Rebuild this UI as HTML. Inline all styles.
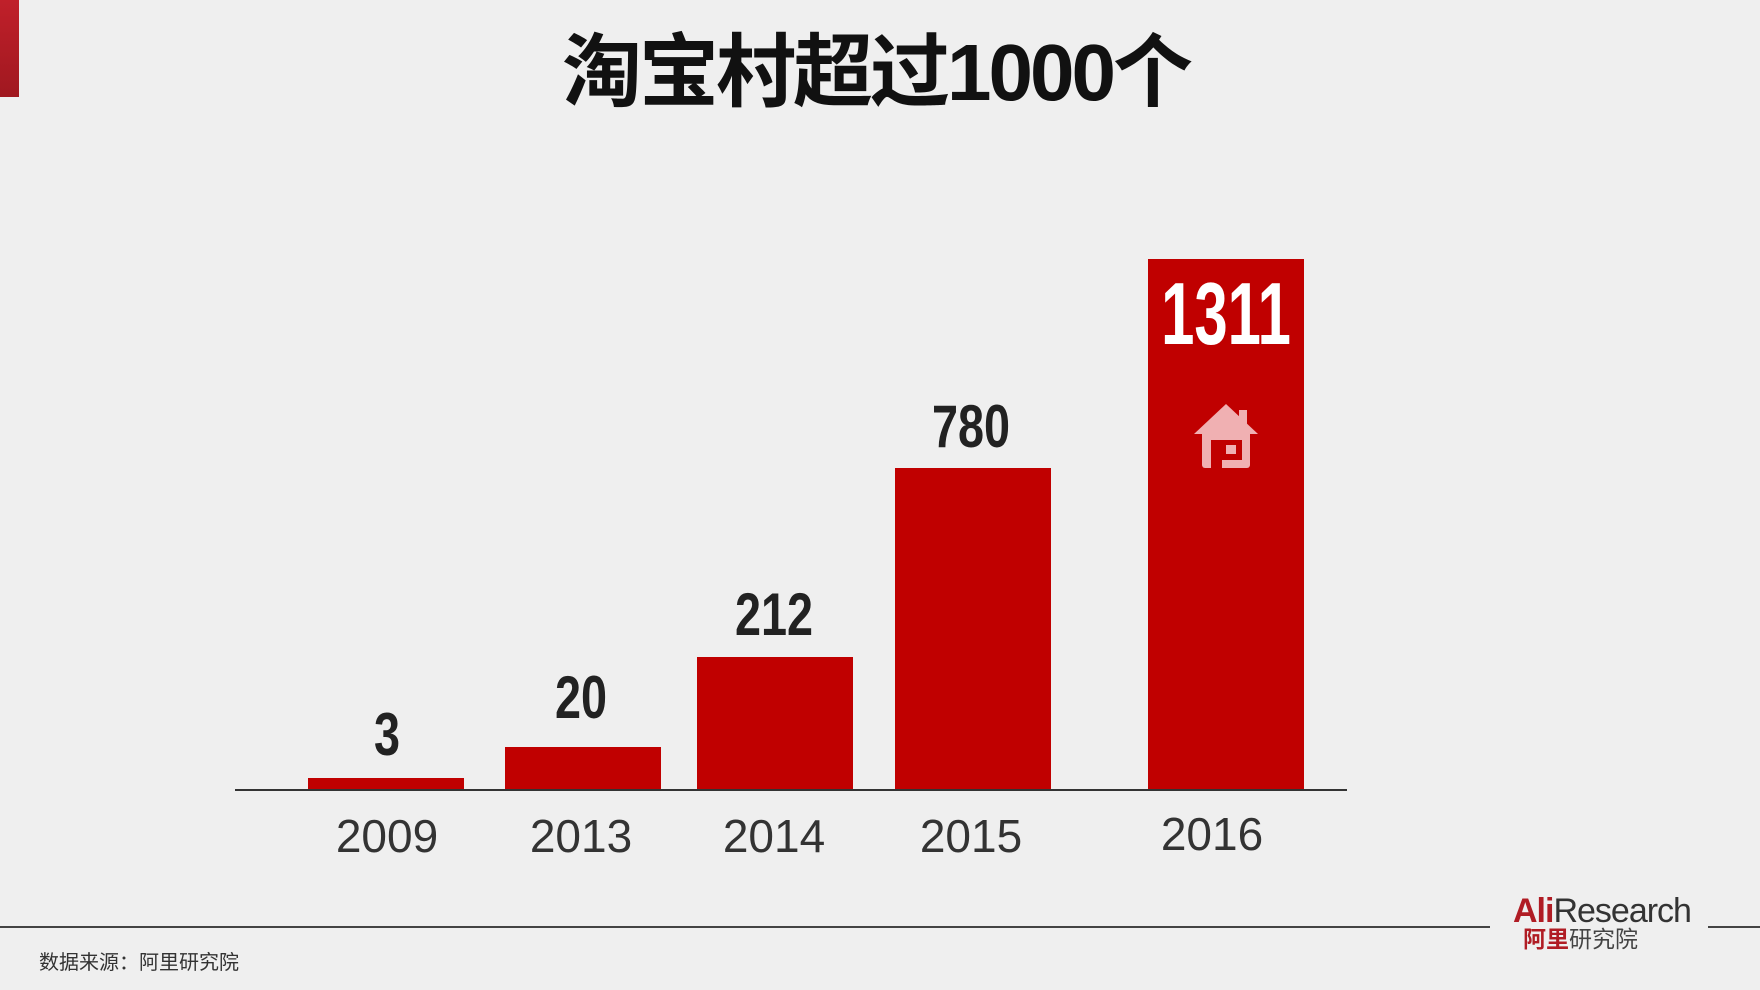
<!DOCTYPE html>
<html><head><meta charset="utf-8"><style>
body{margin:0;width:1760px;height:990px;background:#efefef;position:relative;overflow:hidden;font-family:"Liberation Sans","Noto Sans CJK SC",sans-serif}
.a{position:absolute}
.bar{position:absolute;background:#c00000}
.v{position:absolute;font-family:"Liberation Sans Narrow","Liberation Sans",sans-serif;font-weight:bold;font-size:60px;color:#222;transform:translate(-50%,-50%) scaleX(0.78);line-height:1;white-space:nowrap}
.y{position:absolute;font-size:46px;color:#333;transform:translate(-50%,-50%);line-height:1}
</style></head><body>
<div class="a" style="left:0;top:0;width:19px;height:97px;background:linear-gradient(#c0202a,#a01820)"></div>
<div class="a" style="left:376px;top:30px;width:1000px;text-align:center;font-size:80px;font-weight:bold;color:#111;line-height:86px;white-space:nowrap;letter-spacing:-3px">淘宝村超过1000个</div>

<div class="bar" style="left:308px;top:778px;width:156px;height:11px"></div>
<div class="bar" style="left:505px;top:747px;width:156px;height:42px"></div>
<div class="bar" style="left:697px;top:657px;width:156px;height:132px"></div>
<div class="bar" style="left:895px;top:468px;width:156px;height:321px"></div>
<div class="bar" style="left:1148px;top:259px;width:156px;height:530px"></div>
<div class="a" style="left:235px;top:789px;width:1112px;height:1.5px;background:#333"></div>

<div class="v" style="left:387px;top:735px">3</div>
<div class="v" style="left:581px;top:698px">20</div>
<div class="v" style="left:774px;top:615px">212</div>
<div class="v" style="left:971px;top:427px">780</div>
<div class="v" style="left:1226px;top:314px;color:#fff;font-size:88px;transform:translate(-50%,-50%) scaleX(0.68)">1311</div>

<svg class="a" style="left:1192px;top:402px" width="68" height="68" viewBox="0 0 68 68">
<g fill="#f0b0b2"><polygon points="34,2 2,32 66,32"/><rect x="47" y="8" width="8" height="16"/>
<rect x="10" y="28" width="48" height="38" rx="3"/></g>
<path d="M19,66 V38 H50 V58 H30 V66 Z" fill="#c00000"/>
<rect x="34" y="43" width="10" height="9" fill="#f0b0b2"/>
</svg>

<div class="y" style="left:387px;top:836px">2009</div>
<div class="y" style="left:581px;top:836px">2013</div>
<div class="y" style="left:774px;top:836px">2014</div>
<div class="y" style="left:971px;top:836px">2015</div>
<div class="y" style="left:1212px;top:834px">2016</div>

<div class="a" style="left:0;top:926px;width:1490px;height:1.5px;background:#444"></div>
<div class="a" style="left:1708px;top:926px;width:52px;height:1.5px;background:#444"></div>
<div class="a" style="left:39px;top:946px;font-size:20px;color:#333">数据来源：阿里研究院</div>
<div class="a" style="left:1513px;top:894px;font-size:34px;color:#333;letter-spacing:-1px;line-height:1"><span style="color:#b01c24;font-weight:bold">Ali</span>Research</div>
<div class="a" style="left:1523px;top:928px;font-size:23px;line-height:1;color:#444"><span style="color:#b01c24;font-weight:bold">阿里</span>研究院</div>
</body></html>
